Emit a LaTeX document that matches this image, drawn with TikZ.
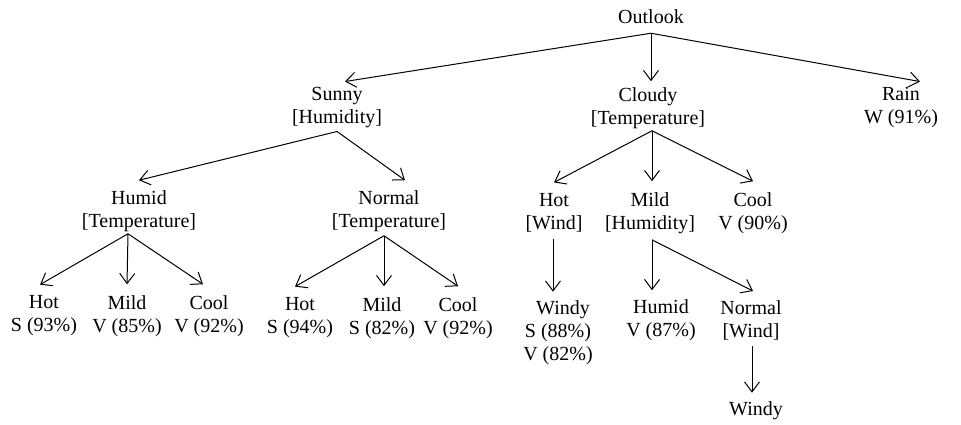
\documentclass[tikz,border=0pt]{standalone}
\usepackage{fontspec}
\setmainfont{Liberation Serif}
\usetikzlibrary{arrows.meta}
\begin{document}
\begin{tikzpicture}[x=1pt,y=-1pt,
  lbl/.style={align=center,inner sep=0pt,font=\fontsize{20}{23}\selectfont},
  arr/.style={-{Straight Barb[length=10pt,width=15pt]},line width=1pt}]
\useasboundingbox[fill=white] (0,0) rectangle (961,424);
% level 0
\node[lbl] (outlook) at (651,17) {Outlook};
% level 1
\node[lbl] (sunny) at (337,108) {Sunny\\{[Humidity]}};
\node[lbl] (cloudy) at (648,108) {Cloudy\\{[Temperature]}};
\node[lbl] (rain) at (901,108) {Rain\\W (91\%)};
% level 2
\node[lbl] (humid) at (139,211) {Humid\\{[Temperature]}};
\node[lbl] (normal) at (389,211) {Normal\\{[Temperature]}};
\node[lbl] (chot) at (554,213) {Hot\\{[Wind]}};
\node[lbl] (cmild) at (650,213) {Mild\\{[Humidity]}};
\node[lbl] (ccool) at (753,213) {Cool\\V (90\%)};
% level 3
\node[lbl] (hot1) at (44,316) {Hot\\S (93\%)};
\node[lbl] (mild1) at (127,316) {Mild\\V (85\%)};
\node[lbl] (cool1) at (209,316) {Cool\\V (92\%)};
\node[lbl] (hot2) at (300,318) {Hot\\S (94\%)};
\node[lbl] (mild2) at (382,318) {Mild\\S (82\%)};
\node[lbl] (cool2) at (458,318) {Cool\\V (92\%)};
\node[lbl] (windy1) at (558,333) {\hspace*{10pt}Windy\\S (88\%)\\V (82\%)};
\node[lbl] (humid3) at (661,320) {Humid\\V (87\%)};
\node[lbl] (normal3) at (751,320) {Normal\\{[Wind]}};
% level 4
\node[lbl] (windy2) at (756,411) {Windy};
% connectors
\draw[arr] ([yshift=-9pt]outlook.south) -- ([xshift=8pt,yshift=6pt]sunny.north);
\draw[arr] ([yshift=-9pt]outlook.south) -- ([xshift=3pt,yshift=6pt]cloudy.north);
\draw[arr] ([yshift=-9pt]outlook.south) -- ([xshift=19pt,yshift=6pt]rain.north);
\draw[arr] ([yshift=-3pt]sunny.south) -- ([yshift=10pt]humid.north);
\draw[arr] ([yshift=-3pt]sunny.south) -- ([xshift=16pt,yshift=10pt]normal.north);
\draw[arr] ([xshift=4pt,yshift=-2pt]cloudy.south) -- ([yshift=11pt]chot.north);
\draw[arr] ([xshift=4pt,yshift=-2pt]cloudy.south) -- ([xshift=2pt,yshift=11pt]cmild.north);
\draw[arr] ([xshift=4pt,yshift=-2pt]cloudy.south) -- ([yshift=11pt]ccool.north);
\draw[arr] ([xshift=-11pt,yshift=-2pt]humid.south) -- ([xshift=-4pt,yshift=11pt]hot1.north);
\draw[arr] ([xshift=-11pt,yshift=-2pt]humid.south) -- ([yshift=11pt]mild1.north);
\draw[arr] ([xshift=-11pt,yshift=-2pt]humid.south) -- ([xshift=-6pt,yshift=11pt]cool1.north);
\draw[arr] ([xshift=-5pt,yshift=-4pt]normal.south) -- ([xshift=-5pt,yshift=11pt]hot2.north);
\draw[arr] ([xshift=-5pt,yshift=-4pt]normal.south) -- ([xshift=2pt,yshift=11pt]mild2.north);
\draw[arr] ([xshift=-5pt,yshift=-4pt]normal.south) -- ([yshift=11pt]cool2.north);
\draw[arr] ([xshift=-1pt,yshift=-6pt]chot.south) -- ([xshift=-5pt,yshift=9pt]windy1.north);
\draw[arr] ([xshift=2pt,yshift=-6pt]cmild.south) -- ([xshift=-9pt,yshift=9pt]humid3.north);
\draw[arr] ([xshift=2pt,yshift=-6pt]cmild.south) -- ([xshift=2pt,yshift=9pt]normal3.north);
\draw[arr] ([xshift=1pt,yshift=-6pt]normal3.south) -- ([xshift=-4pt,yshift=9pt]windy2.north);
\end{tikzpicture}
\end{document}
